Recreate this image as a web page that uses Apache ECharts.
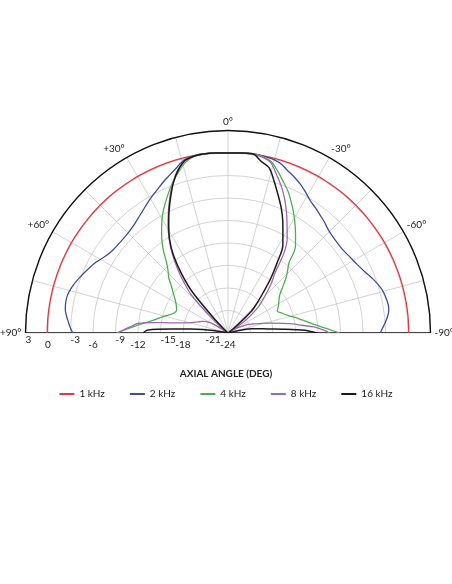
<!DOCTYPE html>
<html>
<head>
<meta charset="utf-8">
<title>Axial angle response</title>
<script src="https://cdn.jsdelivr.net/npm/echarts@6/dist/echarts.min.js"></script>
<style>
  html, body { margin: 0; padding: 0; background: #fff; }
  #chart { width: 452px; height: 584px; }
</style>
</head>
<body>
<div id="chart"></div>
<script>
// axial angle in degrees (+ = left, - = right)
const angles = [-90, -88, -86, -84, -82, -80, -77, -74, -70, -66, -62, -58, -54, -50, -47, -44, -41, -38, -35, -32, -29, -26, -23, -20, -17, -14, -11,
  -8, -4, 0, 4, 8,
  11, 14, 17, 20, 23, 26, 29, 32, 35, 38, 41, 44, 47, 50, 54, 58, 62, 66, 70, 74, 77, 80, 82, 84, 86, 88, 90]

// level in dB for each frequency, same order as angles
const resp1k = [0.1, 0.1, 0.1, 0.1, 0.1, 0.1, 0.1, 0.1, 0.1, 0.1, 0.1, 0.1, 0.1, 0.1, 0.1, 0.1, 0.1, 0.1, 0.1, 0.1, 0.1, 0.1, 0.1, 0.1, 0.1, 0.1, 0.1,
  0.1, 0.05, 0, 0.05, 0.1,
  0.1, 0.1, 0.1, 0.1, 0.1, 0.1, 0.1, 0.1, 0.1, 0.1, 0.1, 0.1, 0.1, 0.1, 0.1, 0.1, 0.1, 0.1, 0.1, 0.1, 0.1, 0.1, 0.1, 0.1, 0.1, 0.1, 0.1]
const resp2k = [-3.7, -3.35, -2.95, -2.6, -2.35, -2.3, -2.45, -2.7, -3.3, -4.0, -4.5, -4.85, -5.1, -5.1, -5.0, -4.8, -4.4, -4.05, -3.65, -3.25, -2.6, -1.95, -1.4, -0.9, -0.3, -0.05, 0.05,
  0.1, 0.05, 0, 0.05, 0.1,
  0.05, -0.15, -0.85, -1.5, -2.05, -2.65, -3.15, -3.65, -4.15, -4.55, -4.9, -5.1, -5.2, -5.2, -5.1, -4.7, -4.0, -3.4, -2.8, -2.25, -2.0, -2.0, -2.1, -2.35, -2.65, -2.95, -3.3]
const resp4k = [-9.1, -10.5, -11.6, -12.6, -13.3, -14.0, -14.8, -15.6, -16.3, -16.8, -16.4, -16.0, -15.5, -14.5, -13.5, -12.6, -11.6, -9.4, -8.3, -7.1, -5.9, -4.7, -3.5, -2.5, -1.4, -0.4, 0.0,
  0.1, 0.05, 0, 0.05, 0.1,
  0.0, -0.55, -1.5, -2.55, -3.7, -4.85, -6.0, -7.3, -8.6, -10.0, -11.5, -12.5, -13.2, -14.1, -15.0, -15.7, -16.2, -16.5, -16.3, -15.5, -14.8, -14.0, -13.3, -12.4, -11.5, -10.4, -9.1]
const resp8k = [-10.4, -11.4, -12.5, -14.1, -15.3, -16.6, -18.2, -19.3, -20.5, -21.3, -22.5, -23.6, -21.0, -19.0, -17.8, -16.6, -15.2, -13.8, -11.0, -9.1, -7.75, -6.2, -4.65, -3.2, -1.9, -0.55, -0.1,
  0.1, 0.05, 0, 0.05, 0.1,
  0.0, -0.3, -1.2, -2.6, -4.2, -5.9, -7.5, -9.2, -11.0, -13.0, -15.0, -17.0, -20.5, -22.5, -23.8, -22.0, -20.8, -20.2, -19.7, -19.0, -18.0, -16.2, -14.0, -11.9, -11.1, -10.2, -9.3]
const resp16k = [-12.1, -13.8, -16.6, -18.8, -19.9, -20.8, -22.5, -24, -24, -24, -24, -24, -24, -22.5, -19.7, -18.4, -16.8, -14.7, -12.6, -10.2, -8.9, -7.35, -5.85, -4.45, -2.9, -1.3, -0.7,
  0.1, 0.05, 0, 0.05, 0.1,
  0.0, -0.3, -1.3, -2.7, -4.4, -6.05, -7.7, -9.3, -11.3, -13.9, -16.8, -21.6, -23.6, -24, -24, -24, -24, -24, -24, -24, -23.4, -22.0, -20.6, -19.0, -16.5, -13.2, -12.7]

const seriesNames = ['1 kHz', '2 kHz', '4 kHz', '8 kHz', '16 kHz']
const seriesColors = ['#e2383f', '#3c4c9e', '#4cae50', '#a068ad', '#1a1a1a']
const seriesValues = [resp1k, resp2k, resp4k, resp8k, resp16k]

const ringLabelsBelow = [0, -6, -12, -18, -24]
const ringLabelsAbove = [3, -3, -9, -15, -21]
const spokeLabels = [-90, -60, -30, 0, 30, 60, 90]

const font = 'Lato'
const center = [228, 333]
const radius = 202.5

// the angle axis runs clockwise from the left, so it holds the negated axial angle
function angleText(v) {
  let a = -v
  if (a === 0) return '0°'
  return (a > 0 ? '+' + a : String(a)) + '°'
}

let series = [
  {
    // base line through the centre
    type: 'line',
    coordinateSystem: 'polar',
    polarIndex: 0,
    data: [[3, -90], [-24, 0], [3, 90]],
    symbol: 'none',
    silent: true,
    lineStyle: { color: '#111', width: 1.4 },
    z: 1
  }
]
seriesValues.forEach((vals, k) => {
  series.push({
    name: seriesNames[k],
    type: 'line',
    coordinateSystem: 'polar',
    polarIndex: 0,
    data: vals.map((v, i) => [v, -angles[i]]),
    symbol: 'none',
    smooth: 0.3,
    color: seriesColors[k],
    lineStyle: { color: seriesColors[k], width: k === 4 ? 1.5 : 1.3 },
    z: 2 + k
  })
})

let myChart = echarts.init(document.getElementById('chart'))
let option = {
  animation: false,
  textStyle: { fontFamily: font },
  title: {
    text: 'AXIAL ANGLE (DEG)',
    left: 'center',
    top: 364,
    textStyle: { fontFamily: font, fontSize: 10, fontWeight: 'bold', color: '#222' }
  },
  legend: {
    data: seriesNames,
    top: 384,
    left: 'center',
    icon: 'rect',
    itemWidth: 15,
    itemHeight: 2,
    itemGap: 25,
    textStyle: { fontFamily: font, fontSize: 10, color: '#222' }
  },
  polar: [
    { center: center, radius: radius },
    { center: center, radius: radius }
  ],
  angleAxis: [
    {
      polarIndex: 0,
      type: 'value',
      min: -90,
      max: 90,
      interval: 15,
      startAngle: 180,
      endAngle: 0,
      axisLine: { lineStyle: { color: '#111', width: 1.4 } },
      axisTick: { show: false },
      splitLine: { lineStyle: { color: '#c8c8c8', width: 0.8 } },
      axisLabel: {
        margin: 4,
        fontSize: 10,
        color: '#222',
        formatter: v => spokeLabels.includes(v) ? angleText(v) : ''
      }
    },
    {
      polarIndex: 1,
      type: 'value',
      min: -90,
      max: 90,
      startAngle: 180,
      endAngle: 0,
      show: false
    }
  ],
  radiusAxis: [
    {
      polarIndex: 0,
      type: 'value',
      min: -24,
      max: 3,
      interval: 3,
      axisLine: { show: false },
      axisTick: { show: false },
      splitLine: { lineStyle: { color: '#c8c8c8', width: 0.8 } },
      axisLabel: {
        fontSize: 10,
        color: '#222',
        margin: 7,
        formatter: v => ringLabelsBelow.includes(v) ? String(v) : ''
      }
    },
    {
      polarIndex: 1,
      type: 'value',
      min: -24,
      max: 3,
      interval: 3,
      axisLine: { show: false },
      axisTick: { show: false },
      splitLine: { show: false },
      axisLabel: {
        inside: true,
        fontSize: 10,
        color: '#222',
        margin: 2,
        align: 'left',
        formatter: v => ringLabelsAbove.includes(v) ? String(v) : ''
      }
    }
  ],
  series: series
}

option && myChart.setOption(option)
</script>
</body>
</html>
